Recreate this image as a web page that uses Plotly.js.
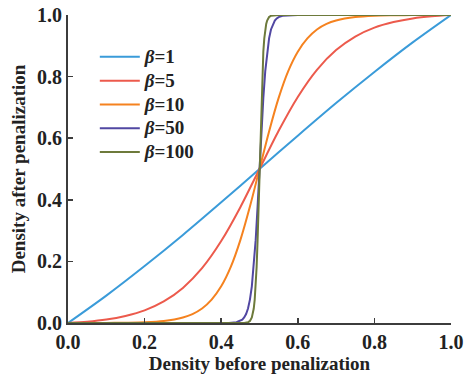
<!DOCTYPE html>
<html><head><meta charset="utf-8">
<script src="https://cdn.plot.ly/plotly-3.0.1.min.js"></script>
<style>html,body{margin:0;padding:0;background:#fff;}</style>
</head><body><div id="chart" style="width:465px;height:376px;"></div>
<script>
var names = ["<i>β</i>=1", "<i>β</i>=5", "<i>β</i>=10", "<i>β</i>=50", "<i>β</i>=100"];
var colors = ["#3a9bd9", "#ec5a4c", "#f5821f", "#5147a2", "#6d7a3b"];

var x1 = [0, 0.1, 0.2, 0.3, 0.4, 0.5, 0.6, 0.7, 0.8, 0.9, 1.0];
var y1 = [0, 0.089, 0.185, 0.286, 0.392, 0.5, 0.608, 0.714, 0.815, 0.911, 1.0];

var x5 = [0, 0.05, 0.1, 0.15, 0.2, 0.25, 0.3, 0.35, 0.4, 0.45, 0.5, 0.55, 0.6, 0.65, 0.7, 0.75, 0.8, 0.85, 0.9, 0.95, 1.0];
var y5 = [0, 0.004, 0.011, 0.023, 0.041, 0.070, 0.114, 0.178, 0.266, 0.376, 0.5, 0.624, 0.734, 0.822, 0.886, 0.930, 0.959, 0.977, 0.989, 0.996, 1.0];

var x10 = [0, 0.1, 0.15, 0.2, 0.25, 0.3, 0.325, 0.35, 0.375, 0.4, 0.425, 0.45, 0.475, 0.5, 0.525, 0.55, 0.575, 0.6, 0.625, 0.65, 0.675, 0.7, 0.75, 0.8, 0.85, 0.9, 1.0];
var y10 = [0, 0.0003, 0.001, 0.0024, 0.0067, 0.018, 0.029, 0.047, 0.076, 0.119, 0.182, 0.269, 0.378, 0.5, 0.622, 0.731, 0.818, 0.881, 0.924, 0.953, 0.971, 0.982, 0.9933, 0.9976, 0.999, 0.9997, 1.0];

var x50 = [0, 0.2, 0.4, 0.42, 0.44, 0.45, 0.455, 0.46, 0.465, 0.47, 0.475, 0.48, 0.485, 0.49, 0.495, 0.5, 0.505, 0.51, 0.515, 0.52, 0.525, 0.53, 0.535, 0.54, 0.545, 0.55, 0.56, 0.58, 0.6, 0.8, 1.0];
var y50 = [0, 0, 0.00005, 0.0003, 0.0025, 0.0067, 0.011, 0.018, 0.029, 0.047, 0.076, 0.119, 0.182, 0.269, 0.378, 0.5, 0.622, 0.731, 0.818, 0.881, 0.924, 0.953, 0.971, 0.982, 0.989, 0.9933, 0.9975, 0.9997, 1.0, 1.0, 1.0];

var x100 = [0, 0.2, 0.4, 0.45, 0.46, 0.47, 0.475, 0.48, 0.4825, 0.485, 0.4875, 0.49, 0.4925, 0.495, 0.4975, 0.5, 0.5025, 0.505, 0.5075, 0.51, 0.5125, 0.515, 0.5175, 0.52, 0.525, 0.53, 0.54, 0.55, 0.6, 0.8, 1.0];
var y100 = [0, 0, 0, 0.00005, 0.0003, 0.0025, 0.0067, 0.018, 0.029, 0.047, 0.076, 0.119, 0.182, 0.269, 0.378, 0.5, 0.622, 0.731, 0.818, 0.881, 0.924, 0.953, 0.971, 0.982, 0.9933, 0.9975, 0.9997, 1.0, 1.0, 1.0, 1.0];

var xs = [x1, x5, x10, x50, x100];
var ys = [y1, y5, y10, y50, y100];
var shapes = ["spline", "spline", "spline", "linear", "linear"];

var traces = [];
for (var i = 0; i < names.length; i++) {
  traces.push({
    x: xs[i], y: ys[i],
    name: '<span style="font-size:19px">' + names[i] + '</span>',
    type: "scatter", mode: "lines",
    line: {color: colors[i], width: 2, shape: shapes[i], smoothing: 0.8},
    cliponaxis: false
  });
}

var fontFam = "Liberation Serif, Times New Roman, serif";
var axisCommon = {
  range: [0, 1], dtick: 0.2, tick0: 0, tickformat: ".1f",
  showgrid: false, zeroline: false, showline: true,
  linecolor: "#3c3c3c", linewidth: 2,
  ticks: "inside", ticklen: 5, tickwidth: 1.5, tickcolor: "#3c3c3c",
  tickfont: {family: fontFam, size: 20, color: "#222", weight: "bold"},
  fixedrange: true
};

var layout = {
  width: 465, height: 376,
  margin: {l: 68, r: 14, t: 15, b: 53},
  paper_bgcolor: "#fff", plot_bgcolor: "#fff",
  showlegend: true,
  legend: {
    x: 0.07, y: 0.919, xanchor: "left", yanchor: "top",
    bgcolor: "rgba(0,0,0,0)", borderwidth: 0,
    font: {family: fontFam, size: 16, color: "#222", weight: "bold"},
    itemwidth: 40, tracegroupgap: 0
  },
  xaxis: Object.assign({}, axisCommon, {
    title: {text: "Density before penalization", standoff: 4,
      font: {family: fontFam, size: 19, color: "#222", weight: "bold"}}
  }),
  yaxis: Object.assign({}, axisCommon, {
    title: {text: "Density after penalization", standoff: 6,
      font: {family: fontFam, size: 19, color: "#222", weight: "bold"}}
  })
};

Plotly.newPlot("chart", traces, layout, {displayModeBar: false, staticPlot: true});
</script>
</body></html>
